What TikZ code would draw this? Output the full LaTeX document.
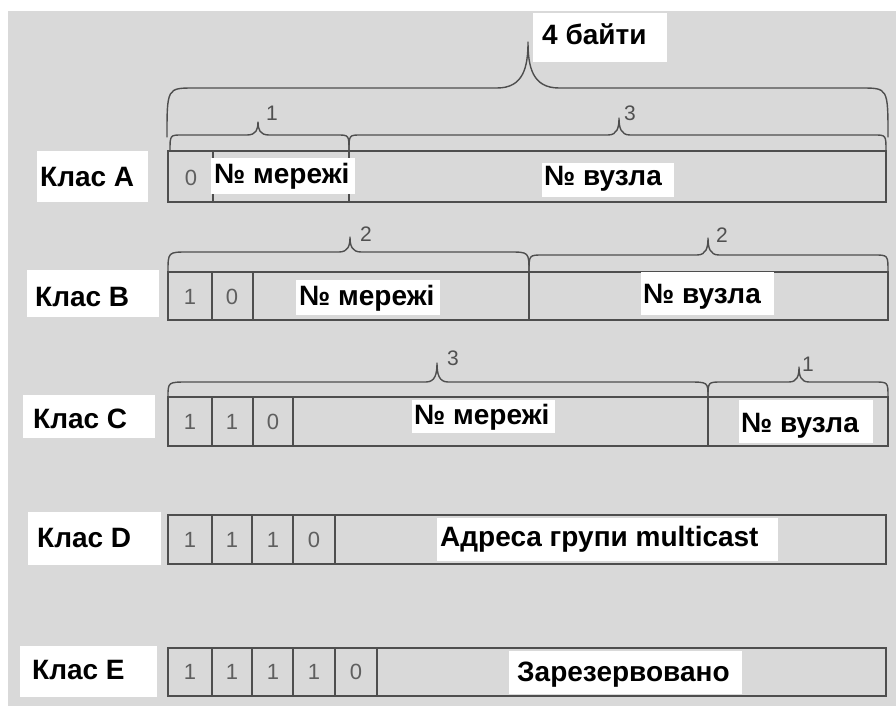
\documentclass[tikz,border=0pt]{standalone}
\usepackage{fontspec}
\setmainfont{Liberation Sans}
\definecolor{bgc}{RGB}{217,217,217}
\definecolor{lnc}{RGB}{78,78,78}
\definecolor{bitc}{RGB}{95,95,95}
\definecolor{numc}{RGB}{80,80,80}
\tikzset{
  lbl/.style={inner sep=0pt, font=\fontsize{28}{30}\selectfont\bfseries, text=black},
  bit/.style={inner sep=0pt, font=\fontsize{22}{24}\selectfont, text=bitc},
  num/.style={inner sep=0pt, font=\fontsize{21}{23}\selectfont, text=numc},
  boxl/.style={draw=lnc, line width=1.5pt},
  brc/.style={draw=lnc, line width=1.4pt, line cap=round, line join=round}
}
% brace: x1 x2 xtip ybottom yhoriz ytip rend wtip
\newcommand\ipbr[8]{%
  \draw[brc] (#1,#4) .. controls (#1,#5) .. ({#1+#7},#5) -- ({#3-#8},#5)
    .. controls ({#3-0.15*#8},#5) and (#3,{#5-0.45*(#5-#6)}) .. (#3,#6)
    .. controls (#3,{#5-0.45*(#5-#6)}) and ({#3+0.15*#8},#5) .. ({#3+#8},#5)
    -- ({#2-#7},#5) .. controls (#2,#5) .. (#2,#4);}
% white label: name x1 y1 x2 y2 textx baseline text
\newcommand\wlab[8]{%
  \fill[white] (#2,#3) rectangle (#4,#5);
  \node[lbl, anchor=base west] (#1) at (#6,#7) {#8};}
\begin{document}
\begin{tikzpicture}[x=1pt,y=-1pt]
\useasboundingbox (0,0) rectangle (896,706);
\fill[white] (0,0) rectangle (896,706);
\fill[bgc] (8,11) rectangle (896,706);

% ---------- Class A ----------
\ipbr{167}{888}{528}{137}{88}{42}{27}{31}
\ipbr{170}{349}{258}{151}{135}{122}{12}{11}
\ipbr{349}{886}{619}{151}{135}{118}{12}{11}
\wlab{bytes}{533}{13}{667}{62}{542}{45}{4 байти}
\node[num] (nA1) at (272,113) {1};
\node[num] (nA3) at (630,113) {3};
\draw[boxl] (168,151) rectangle (886,202);
\draw[boxl] (213,151) -- (213,202);
\draw[boxl] (349,151) -- (349,202);
\wlab{clA}{37}{151}{148}{202}{40}{186}{Клас A}
\node[bit] (bA1) at (191,178) {0};
\wlab{netA}{211}{158}{355}{194}{214}{183}{№ мережі}
\wlab{hostA}{542}{163}{674}{197}{544}{185}{№ вузла}

% ---------- Class B ----------
\ipbr{168}{529}{350}{272}{252}{237}{20}{11}
\ipbr{529}{888}{708}{272}{255}{238}{14}{11}
\node[num] (nB1) at (366,234) {2};
\node[num] (nB2) at (722,235) {2};
\draw[boxl] (168,272) rectangle (888,320);
\foreach \x in {212,253,529} \draw[boxl] (\x,272) -- (\x,320);
\wlab{clB}{27}{270}{159}{317}{35}{306}{Клас B}
\node[bit] (bB1) at (190,297) {1};
\node[bit] (bB2) at (232,297) {0};
\wlab{netB}{296}{280}{440}{315}{299}{305}{№ мережі}
\wlab{hostB}{641}{272}{774}{315}{643}{303}{№ вузла}

% ---------- Class C ----------
\ipbr{168}{708}{437}{397}{382}{363}{20}{11}
\ipbr{708}{888}{799}{397}{382}{367}{14}{10}
\node[num] (nC1) at (453,358) {3};
\node[num] (nC2) at (808,364) {1};
\draw[boxl] (168,397) rectangle (888,446);
\foreach \x in {212,253,293,708} \draw[boxl] (\x,397) -- (\x,446);
\wlab{clC}{23}{395}{155}{438}{33}{428}{Клас C}
\node[bit] (bC1) at (190,422) {1};
\node[bit] (bC2) at (232,422) {1};
\node[bit] (bC3) at (273,422) {0};
\wlab{netC}{412}{400}{555}{433}{414}{424}{№ мережі}
\wlab{hostC}{739}{400}{873}{443}{741}{432}{№ вузла}

% ---------- Class D ----------
\draw[boxl] (168,515) rectangle (886,564);
\foreach \x in {212,252,293,335} \draw[boxl] (\x,515) -- (\x,564);
\wlab{clD}{28}{512}{161}{565}{37}{547}{Клас D}
\node[bit] (bD1) at (190,540) {1};
\node[bit] (bD2) at (232,540) {1};
\node[bit] (bD3) at (273,540) {1};
\node[bit] (bD4) at (314,540) {0};
\wlab{grpD}{437}{518}{778}{561}{440}{546}{Адреса групи multicast}

% ---------- Class E ----------
\draw[boxl] (168,648) rectangle (886,696);
\foreach \x in {212,252,293,335,377} \draw[boxl] (\x,648) -- (\x,696);
\wlab{clE}{20}{646}{157}{697}{32}{679}{Клас E}
\node[bit] (bE1) at (190,672) {1};
\node[bit] (bE2) at (232,672) {1};
\node[bit] (bE3) at (273,672) {1};
\node[bit] (bE4) at (314,672) {1};
\node[bit] (bE5) at (356,672) {0};
\wlab{resE}{509}{651}{742}{694}{517}{681}{Зарезервовано}
\end{tikzpicture}
\end{document}
